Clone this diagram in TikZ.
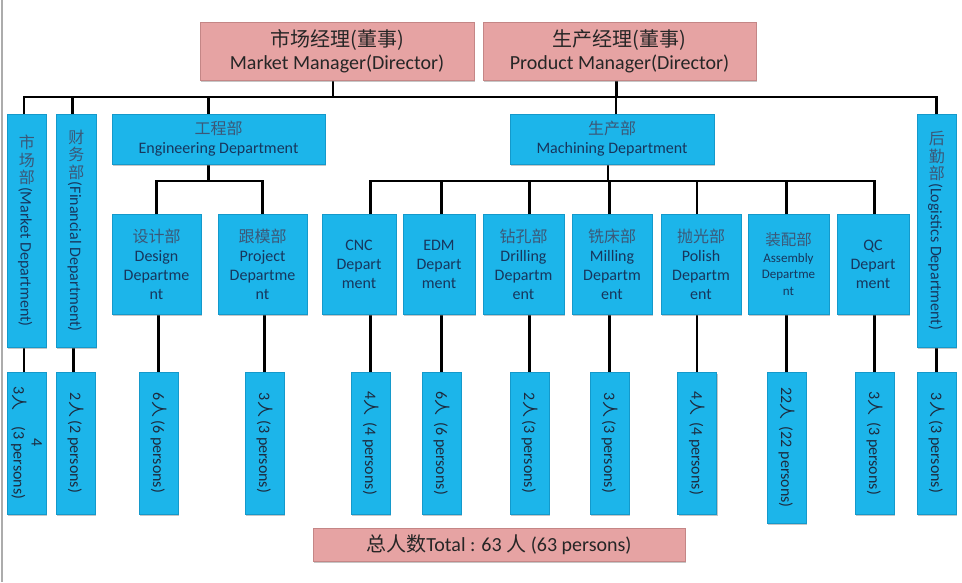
\documentclass[tikz,border=0pt]{standalone}
\usepackage{fontspec}
\setmainfont{Carlito}
\newfontfamily\cjk{Noto Sans CJK SC}
\usepackage{graphicx}
\usetikzlibrary{shadows}
\definecolor{bx}{HTML}{1CB5EA}
\definecolor{bxd}{HTML}{1499CB}
\definecolor{pk}{HTML}{E6A3A3}
\definecolor{pkd}{HTML}{C48686}
\definecolor{nv}{HTML}{17365D}
\definecolor{zhc}{HTML}{3B5878}
\definecolor{pt}{HTML}{1C2B3F}
\newcommand\zh[1]{{\cjk\color{zhc}#1}}
\newcommand\uprt[1]{\rotatebox[origin=c]{90}{\raisebox{0pt}[0.88em][0.12em]{\cjk\color{zhc}#1}}\kern1.5pt}
\pgfdeclarelayer{background}
\pgfsetlayers{background,main}
\begin{document}
\begin{tikzpicture}[x=1pt,y=-1pt,
  bluebox/.style={fill=bx, draw=bxd, line width=0.6pt, inner sep=0pt, text=nv, align=center,
    drop shadow={shadow xshift=1.2pt,shadow yshift=-1.8pt,opacity=0.45}},
  pinkbox/.style={fill=pk, draw=pkd, line width=0.8pt, inner sep=0pt, text=black!85, align=center,
    drop shadow={shadow xshift=1.2pt,shadow yshift=-1.8pt,opacity=0.45}},
  deptfont/.style={font=\fontsize{16}{19}\selectfont},
  vtext/.style={rotate=-90, inner sep=0pt, text=nv, font=\fontsize{16}{19}\selectfont},
  ptext/.style={rotate=-90, inner sep=0pt, text=pt, align=center, font=\fontsize{16}{18}\selectfont},
  link/.style={line width=2.2pt, black}]
\useasboundingbox (0,0) rectangle (962,582);
\draw[gray!65, line width=2pt] (1.5,0) -- (1.5,582);

% top managers
\node[pinkbox, minimum width=274, minimum height=58, font=\fontsize{20}{23}\selectfont] (mm) at (337,51)
  {{\cjk 市场经理(董事)}\\Market Manager(Director)};
\node[pinkbox, minimum width=273, minimum height=58, font=\fontsize{20}{23}\selectfont] (pm) at (619.5,51)
  {{\cjk 生产经理(董事)}\\Product Manager(Director)};

% level 1
\node[bluebox, minimum width=39, minimum height=233] (mkt) at (26.5,230.5) {};
\node[vtext] (mktT) at (mkt.center) {\uprt{市}\uprt{场}\uprt{部}(Market Department)};
\node[bluebox, minimum width=40, minimum height=233] (fin) at (76,230.5) {};
\node[vtext] (finT) at (fin.center) {\uprt{财}\uprt{务}\uprt{部}(Financial Department)};
\node[bluebox, minimum width=39, minimum height=233] (log) at (936.5,230.5) {};
\node[vtext] (logT) at (log.center) {\uprt{后}\uprt{勤}\uprt{部}(Logistics Department)};
\node[bluebox, deptfont, minimum width=213, minimum height=50] (eng) at (218.5,139)
  {\zh{工程部}\\Engineering Department};
\node[bluebox, deptfont, minimum width=204, minimum height=50] (mach) at (612,139)
  {\zh{生产部}\\Machining Department};

% level 2
\node[bluebox, deptfont, minimum width=89, minimum height=100] (des) at (156.5,264) {\zh{设计部}\\Design\\Departme\\nt};
\node[bluebox, deptfont, minimum width=89, minimum height=100] (prj) at (262.5,264) {\zh{跟模部}\\Project\\Departme\\nt};
\node[bluebox, deptfont, minimum width=74, minimum height=100] (cnc) at (359,264) {CNC\\Depart\\ment};
\node[bluebox, deptfont, minimum width=72, minimum height=100] (edm) at (439,264) {EDM\\Depart\\ment};
\node[bluebox, deptfont, minimum width=81, minimum height=100] (drl) at (523.5,264) {\zh{钻孔部}\\Drilling\\Departm\\ent};
\node[bluebox, deptfont, minimum width=80, minimum height=100] (mil) at (612,264) {\zh{铣床部}\\Milling\\Departm\\ent};
\node[bluebox, deptfont, minimum width=80, minimum height=100] (pol) at (701,264) {\zh{抛光部}\\Polish\\Departm\\ent};
\node[bluebox, font=\fontsize{13}{16.5}\selectfont, minimum width=81, minimum height=100] (asm) at (788.5,264)
  {\zh{\fontsize{15.5}{16.5}\selectfont 装配部}\\Assembly\\Departme\\nt};
\node[bluebox, deptfont, minimum width=72, minimum height=100] (qc) at (873,264) {QC\\Depart\\ment};

% person boxes
\foreach \n/\x in {p1/26.5,p2/75.5,p3/158.5,p4/264.5,p5/370.5,p6/441.5,p7/529.5,p8/609.5,p9/697,p11/874.5,p12/936.5}
  \node[bluebox, minimum width=39, minimum height=142] (\n) at (\x,443) {};
\node[bluebox, minimum width=39, minimum height=151] (p10) at (786.5,447.5) {};

\node[ptext] (p1T) at (p1.center) {4\\3{\cjk 人}\quad(3 persons)};
\node[ptext] (p2T) at (p2.center) {2{\cjk 人} (2 persons)};
\node[ptext] (p3T) at (p3.center) {6{\cjk 人} (6 persons)};
\node[ptext] (p4T) at (p4.center) {3{\cjk 人} (3 persons)};
\node[ptext] (p5T) at (p5.center) {4{\cjk 人} \ (4 persons)};
\node[ptext] (p6T) at (p6.center) {6{\cjk 人} \ (6 persons)};
\node[ptext] (p7T) at (p7.center) {2{\cjk 人} (3 persons)};
\node[ptext] (p8T) at (p8.center) {3{\cjk 人} (3 persons)};
\node[ptext] (p9T) at (p9.center) {4{\cjk 人} \ (4 persons)};
\node[ptext] (p10T) at (p10.center) {22{\cjk 人} \ (22 persons)};
\node[ptext] (p11T) at (p11.center) {3{\cjk 人} \ (3 persons)};
\node[ptext] (p12T) at (p12.center) {3{\cjk 人} (3 persons)};

% total
\node[pinkbox, minimum width=372, minimum height=33, font=\fontsize{20}{24}\selectfont] (tot) at (499,544.5)
  {{\cjk 总人数}Total : 63 {\cjk 人} (63 persons)};

% connectors
\coordinate (bus) at (0,97);
\coordinate (ebus) at (0,181);
\begin{pgfonlayer}{background}
\draw[link] ([xshift=-2.5pt]mkt.north) -- ([xshift=-2.5pt]mkt.north |- bus) -- (log.north |- bus) -- (log.north);
\draw[link] ([xshift=-4pt]mm.south) -- ([xshift=-4pt]mm.south |- bus);
\draw[link] ([xshift=-3pt]pm.south) -- ([xshift=-3pt]pm.south |- bus);
\draw[link] ([xshift=-3.5pt]fin.north) -- ([xshift=-3.5pt]fin.north |- bus);
\draw[link] ([xshift=-10pt]eng.north) -- ([xshift=-10pt]eng.north |- bus);
\draw[link] ([xshift=4pt]mach.north) -- ([xshift=4pt]mach.north |- bus);
\draw[link] ([xshift=-10pt]eng.south) -- ([xshift=-10pt]eng.south |- ebus);
\draw[link] (des.north) -- (des.north |- ebus) -- (prj.north |- ebus) -- (prj.north);
\draw[link] ([xshift=-4pt]mach.south) -- ([xshift=-4pt]mach.south |- ebus);
\draw[link] (p5.north |- cnc.north) -- (p5.north |- ebus) -- (p11.north |- ebus) -- (p11.north |- qc.north);
\foreach \p/\d in {p6/edm,p7/drl,p8/mil,p9/pol,p10/asm}
  \draw[link] (\p.north |- \d.north) -- (\p.north |- ebus);
\foreach \p/\d in {p3/des,p4/prj,p5/cnc,p6/edm,p7/drl,p8/mil,p9/pol,p10/asm,p11/qc,p12/log}
  \draw[link] (\p.north) -- (\p.north |- \d.south);
\draw[link] ([xshift=-2.5pt]p1.north) -- ([xshift=-2.5pt]p1.north |- mkt.south);
\draw[link] ([xshift=-2pt]p2.north) -- ([xshift=-2pt]p2.north |- fin.south);
\end{pgfonlayer}
\end{tikzpicture}
\end{document}
